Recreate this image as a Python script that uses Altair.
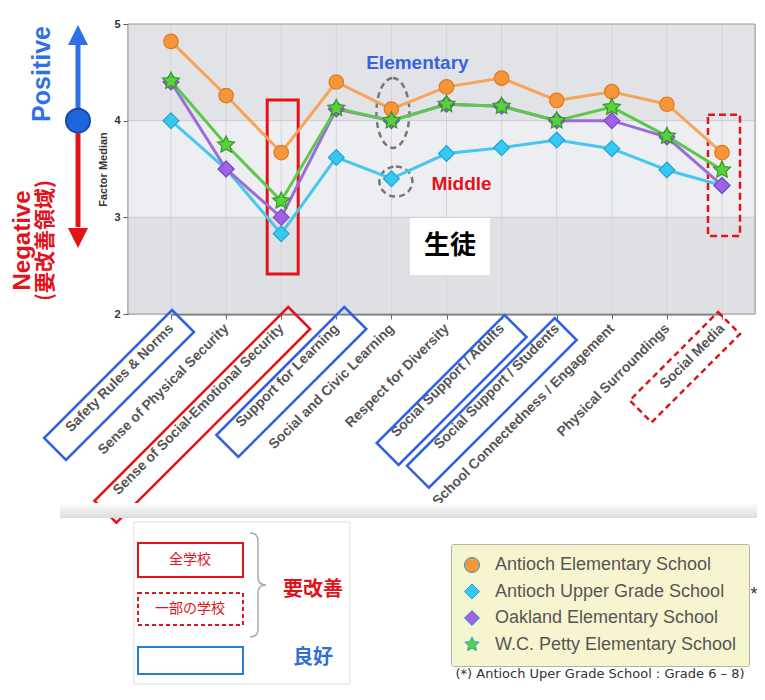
import math
import altair as alt
import pandas as pd

# ---------------- data ----------------
categories = [
    "Safety Rules & Norms",
    "Sense of Physical Security",
    "Sense of Social-Emotional Security",
    "Support for Learning",
    "Social and Civic Learning",
    "Respect for Diversity",
    "Social Support / Adults",
    "Social Support / Students",
    "School Connectedness / Engagement",
    "Physical Surroundings",
    "Social Media",
]
series_names = [
    "Antioch Elementary School",
    "Antioch Upper Grade School",
    "Oakland Elementary School",
    "W.C. Petty Elementary School",
]
antioch_elementary = [4.82, 4.26, 3.67, 4.40, 4.12, 4.35, 4.44, 4.21, 4.30, 4.17, 3.67]
antioch_upper = [4.00, 3.50, 2.83, 3.62, 3.40, 3.66, 3.72, 3.80, 3.71, 3.49, 3.33]
oakland = [4.40, 3.50, 3.00, 4.12, 4.00, 4.17, 4.15, 4.00, 4.00, 3.83, 3.33]
wc_petty = [4.41, 3.75, 3.17, 4.13, 4.00, 4.17, 4.15, 4.00, 4.14, 3.84, 3.49]
y_ticks = [2, 3, 4, 5]
footnote = "(*) Antioch Uper Grade School : Grade 6 \u2013 8)"

values_by_series = [antioch_elementary, antioch_upper, oakland, wc_petty]
rows = []
for name, vals in zip(series_names, values_by_series):
    for i, (c, v) in enumerate(zip(categories, vals)):
        rows.append({"cat": c, "idx": i, "series": name, "value": v})
df = pd.DataFrame(rows)

# ---------------- styles ----------------
line_colors = ["#f6a45c", "#47c7ee", "#9c6cdb", "#5dc94c"]
fill_colors = ["#f7953a", "#37c8f2", "#a062e2", "#58d13c"]
edge_colors = ["#dd7b22", "#1fa5d6", "#7d46c4", "#379a28"]


def star_path(inner=0.48):
    pts = []
    for i in range(10):
        r = 1.0 if i % 2 == 0 else inner
        a = -math.pi / 2 + i * math.pi / 5
        pts.append(f"{r * math.cos(a):.3f},{r * math.sin(a):.3f}")
    return "M" + "L".join(pts) + "Z"


shapes = ["circle", "diamond", "diamond", star_path()]
sizes = [210, 250, 250, 320]

BLUE = "#2f62e0"
RED = "#e3121b"
FONT = "Liberation Sans"
CJK = "Noto Sans CJK JP"

W, H = 627, 290
xscale = alt.Scale(type="point", domain=categories, range=[43, 594], padding=0)
yscale = alt.Scale(domain=[2, 5], nice=False, zero=False)
xaxis = alt.Axis(
    title=None, labelAngle=315, labelAlign="right", labelBaseline="middle",
    labelFontSize=14, labelFontWeight="bold", labelColor="#555", labelFont=FONT,
    labelLimit=400, labelPadding=7, tickSize=5, tickColor="#666",
    domainColor="#666", domainWidth=2, grid=False, labelOverlap=False,
)
yaxis = alt.Axis(
    title="Factor Median", values=y_ticks, format="d", labelFontSize=11,
    labelFontWeight="bold", labelColor="#333", labelFont=FONT,
    titleFontSize=11, titleFontWeight="bold", titleColor="#333", titleFont=FONT,
    titlePadding=5, tickSize=5, grid=False, domainColor="#555", domainWidth=1.5,
    tickColor="#555", labelPadding=3,
)


def X():
    return alt.X("cat:N", scale=xscale, axis=xaxis)


def Yf(f):
    return alt.Y(f, type="quantitative", scale=yscale, axis=yaxis)


def Yd(v):
    return alt.YDatum(v, scale=yscale, axis=yaxis, type="quantitative")


one = pd.DataFrame({"k": [0]})
layers = []

# plot background bands
bands = pd.DataFrame({"lo": [2, 3, 4], "hi": [3, 4, 5],
                      "col": ["#dfe0e3", "#eceef1", "#e2e3e7"]})
layers.append(alt.Chart(bands).mark_rect().encode(
    x=alt.value(0), x2=alt.value(W), y=Yf("lo"), y2="hi",
    fill=alt.Fill("col:N", scale=None)))

# grid
layers.append(alt.Chart(pd.DataFrame({"cat": categories})).mark_rule(
    color="#d4d5d9", strokeWidth=1).encode(x=X()))
layers.append(alt.Chart(pd.DataFrame({"v": [3, 4]})).mark_rule(
    color="#cbccd0", strokeWidth=1).encode(y=Yf("v")))
layers.append(alt.Chart(one).mark_rect(fillOpacity=0, stroke="#9a9a9a", strokeWidth=1).encode(
    x=alt.value(0), x2=alt.value(W), y=alt.value(0), y2=alt.value(H)))

# highlight boxes in plot
layers.append(alt.Chart(pd.DataFrame({"cat": [categories[2]], "lo": [2.414], "hi": [4.214]}))
              .mark_bar(size=31, fillOpacity=0, stroke=RED, strokeWidth=3, xOffset=1.5)
              .encode(x=X(), y=Yf("lo"), y2="hi"))
layers.append(alt.Chart(pd.DataFrame({"cat": [categories[10]], "lo": [2.807], "hi": [4.06]}))
              .mark_bar(size=32, fillOpacity=0, stroke=RED, strokeWidth=2.5, strokeDash=[7, 4], xOffset=2)
              .encode(x=X(), y=Yf("lo"), y2="hi"))

# dashed ellipses
layers.append(alt.Chart(pd.DataFrame({"cat": [categories[4]], "v": [4.08]})).mark_point(
    shape="M0,-35A16.5,35 0 1,1 0,35A16.5,35 0 1,1 0,-35Z", size=4, filled=False,
    opacity=1, stroke="#777", strokeWidth=2.5, strokeDash=[6, 4], xOffset=1.5
).encode(x=X(), y=Yf("v")))
layers.append(alt.Chart(pd.DataFrame({"cat": [categories[4]], "v": [3.37]})).mark_point(
    shape="M0,-15A16.5,15 0 1,1 0,15A16.5,15 0 1,1 0,-15Z", size=4, filled=False,
    opacity=1, stroke="#777", strokeWidth=2.5, strokeDash=[6, 4], xOffset=4.5
).encode(x=X(), y=Yf("v")))

# series lines and markers
draw_order = [1, 2, 0, 3]
for si in draw_order:
    layers.append(alt.Chart(df).transform_filter(
        alt.datum.series == series_names[si]).mark_line(
        color=line_colors[si], strokeWidth=3).encode(
        x=X(), y=Yf("value"), order=alt.Order("idx:Q")))

legend = alt.Legend(
    title=None, orient="none", legendX=323, legendY=520, direction="vertical",
    fillColor="#f7f5d0", strokeColor="#b4b4a4", padding=12, labelFontSize=18,
    labelColor="#555", labelFont=FONT, symbolSize=230, rowPadding=6.5,
    labelOffset=14, labelLimit=400, cornerRadius=2, symbolStrokeWidth=1,
)
for si in draw_order:
    layers.append(alt.Chart(df).transform_filter(
        alt.datum.series == series_names[si]).mark_point(
        filled=True, opacity=1, size=sizes[si], stroke=edge_colors[si], strokeWidth=1.2).encode(
        x=X(), y=Yf("value"),
        fill=alt.Fill("series:N", scale=alt.Scale(domain=series_names, range=fill_colors), legend=legend),
        shape=alt.Shape("series:N", scale=alt.Scale(domain=series_names, range=shapes), legend=legend)))

# in-plot annotations
layers.append(alt.Chart(pd.DataFrame({"cat": [categories[4]], "v": [4.6], "t": ["Elementary"]}))
              .mark_text(dx=26, fontSize=19, fontWeight="bold", color="#3a62dd", font=FONT)
              .encode(x=X(), y=Yf("v"), text="t:N"))
layers.append(alt.Chart(pd.DataFrame({"cat": [categories[5]], "v": [3.345], "t": ["Middle"]}))
              .mark_text(dx=15, fontSize=19, fontWeight="bold", color=RED, font=FONT)
              .encode(x=X(), y=Yf("v"), text="t:N"))
layers.append(alt.Chart(pd.DataFrame({"cat": [categories[5]], "lo": [2.404], "hi": [2.993]}))
              .mark_bar(size=80, color="white", xOffset=3.5)
              .encode(x=X(), y=Yf("lo"), y2="hi"))
layers.append(alt.Chart(pd.DataFrame({"cat": [categories[5]], "v": [2.70], "t": ["生徒"]}))
              .mark_text(dx=3.5, fontSize=26, fontWeight="bold", color="black", font=CJK)
              .encode(x=X(), y=Yf("v"), text="t:N"))


# tilted boxes around axis labels
def tilted_box(length, width=31):
    s = math.sqrt(0.5)
    a = (-s * width / 2, -s * width / 2)
    b = (s * width / 2, s * width / 2)
    c = (b[0] - s * length, b[1] + s * length)
    d = (a[0] - s * length, a[1] + s * length)
    return "M{:.1f},{:.1f}L{:.1f},{:.1f}L{:.1f},{:.1f}L{:.1f},{:.1f}Z".format(*a, *b, *c, *d)


label_boxes = [
    (0, 181, BLUE, None, 12, 7),
    (2, 274, RED, None, 18, 4),
    (3, 181, BLUE, None, 19, 4),
    (6, 181, BLUE, None, 14, 12),
    (7, 209, BLUE, None, 9, 15),
    (10, 125, RED, [6, 4], 7, 9),
]
for ci, length, colr, dash, ox, oy in label_boxes:
    kw = dict(shape=tilted_box(length), size=4, filled=False, opacity=1, stroke=colr,
              strokeWidth=2.5, xOffset=ox, yOffset=oy)
    if dash:
        kw["strokeDash"] = dash
    layers.append(alt.Chart(pd.DataFrame({"cat": [categories[ci]]})).mark_point(**kw)
                  .encode(x=X(), y=Yd(2)))

# left arrow annotation
AX = -50
layers.append(alt.Chart(one).mark_rule(color="#2f6fe8", strokeWidth=5).encode(
    x=alt.value(AX), y=Yd(4), y2=alt.Y2(datum=4.82)))
layers.append(alt.Chart(one).mark_rule(color=RED, strokeWidth=5).encode(
    x=alt.value(AX), y=Yd(4), y2=alt.Y2(datum=2.9)))
layers.append(alt.Chart(one).mark_point(shape="M0,-10L10,10L-10,10Z", size=4, filled=True,
                                        opacity=1, color="#2f6fe8").encode(x=alt.value(AX), y=Yd(4.886)))
layers.append(alt.Chart(one).mark_point(shape="M0,10L10,-10L-10,-10Z", size=4, filled=True,
                                        opacity=1, color=RED).encode(x=alt.value(AX), y=Yd(2.786)))
layers.append(alt.Chart(one).mark_point(shape="circle", size=576, filled=True, opacity=1,
                                        fill="#1f64d8", stroke="#174aa6", strokeWidth=2)
              .encode(x=alt.value(AX), y=Yd(4)))
layers.append(alt.Chart(one).mark_text(text="Positive", angle=270, fontSize=25, fontWeight="bold",
                                       color="#2f6fe8", font=FONT).encode(x=alt.value(-86), y=Yd(4.483)))
layers.append(alt.Chart(one).mark_text(text="Negative", angle=270, fontSize=24, fontWeight="bold",
                                       color=RED, font=FONT).encode(x=alt.value(-105), y=Yd(2.76)))
layers.append(alt.Chart(one).mark_text(text="(要改善領域)", angle=270, fontSize=21, fontWeight="bold",
                                       color=RED, font=CJK).encode(x=alt.value(-82), y=Yd(2.76)))

# separator strip
strip = alt.Gradient(gradient="linear", x1=0, x2=0, y1=0, y2=1,
                     stops=[alt.GradientStop(color="#ffffff", offset=0),
                            alt.GradientStop(color="#dcdcdc", offset=1)])
layers.append(alt.Chart(one).mark_rect(fill=strip).encode(
    x=alt.value(-68), x2=alt.value(637), y=alt.value(479), y2=alt.value(494)))

# key box (left, bottom)
layers.append(alt.Chart(one).mark_rect(fill="white", stroke="#dddddd", strokeWidth=1).encode(
    x=alt.value(6), x2=alt.value(222), y=alt.value(498), y2=alt.value(660)))
layers.append(alt.Chart(one).mark_rect(fillOpacity=0, stroke=RED, strokeWidth=2).encode(
    x=alt.value(10), x2=alt.value(115), y=alt.value(519), y2=alt.value(553)))
layers.append(alt.Chart(one).mark_rect(fillOpacity=0, stroke=RED, strokeWidth=2, strokeDash=[4, 3]).encode(
    x=alt.value(10), x2=alt.value(115), y=alt.value(569), y2=alt.value(601)))
layers.append(alt.Chart(one).mark_rect(fillOpacity=0, stroke="#2b7bd8", strokeWidth=2).encode(
    x=alt.value(10), x2=alt.value(115), y=alt.value(623), y2=alt.value(650)))
layers.append(alt.Chart(one).mark_text(text="全学校", fontSize=14, color=RED, font=CJK).encode(
    x=alt.value(62), y=alt.value(536)))
layers.append(alt.Chart(one).mark_text(text="一部の学校", fontSize=14, color=RED, font=CJK).encode(
    x=alt.value(62), y=alt.value(585)))
layers.append(alt.Chart(one).mark_point(
    shape="M-8,-52Q0,-52 0,-44L0,-8Q0,0 8,0Q0,0 0,8L0,44Q0,52 -8,52", size=4, filled=False,
    opacity=1, stroke="#aaaaaa", strokeWidth=1.5).encode(x=alt.value(130), y=alt.value(561)))
layers.append(alt.Chart(one).mark_text(text="要改善", fontSize=20, fontWeight="bold", color=RED, font=CJK).encode(
    x=alt.value(185), y=alt.value(566)))
layers.append(alt.Chart(one).mark_text(text="良好", fontSize=20, fontWeight="bold", color="#2f6fd6", font=CJK).encode(
    x=alt.value(185), y=alt.value(634)))

# footnote
layers.append(alt.Chart(one).mark_text(text=footnote, fontSize=13, color="#333", font="DejaVu Sans").encode(
    x=alt.value(472), y=alt.value(650)))
layers.append(alt.Chart(one).mark_text(text="*", fontSize=18, color="#333", font=FONT).encode(
    x=alt.value(626), y=alt.value(571)))

chart = alt.layer(*layers).properties(
    width=W, height=H,
    padding={"left": 120, "top": 16, "right": 2, "bottom": 375},
    autosize=alt.AutoSizeParams(type="none"),
    background="white",
).configure_view(stroke=None).configure(font=FONT)

chart.save("out.html", embed_options={"renderer": "svg", "actions": False})
